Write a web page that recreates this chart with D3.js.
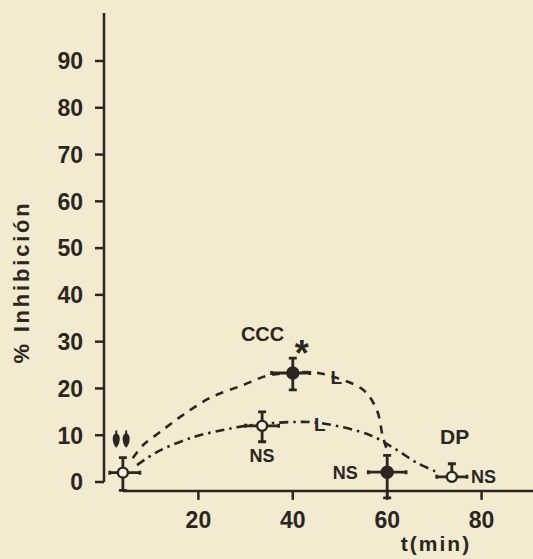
<!DOCTYPE html>
<html>
<head>
<meta charset="utf-8">
<script src="https://cdn.jsdelivr.net/npm/d3@7"></script>
<style>
  html, body { margin: 0; padding: 0; background: #f2ebcf; }
  svg { display: block; }
  text { font-family: 'Liberation Sans', Arial, sans-serif; font-weight: bold; fill: #2b2622; }
</style>
</head>
<body>
<div id="chart"></div>
<script>
  // data
  var yTicks = [0, 10, 20, 30, 40, 50, 60, 70, 80, 90];
  var xTicks = [20, 40, 60, 80];

  // shared starting point (open)
  var startPoint = [{t: 4, v: 2, xl: 2.8, xr: 3.6, yu: 3.2, yd: 3.8}];
  // CCC, filled points
  var cccTimes = [40, 60];
  var cccValues = [23.3, 2.1];
  var cccErrUp = [3.2, 3.6];
  var cccErrDown = [3.6, 5.5];
  var cccErrLeft = [4.5, 4];
  var cccErrRight = [3.6, 4];
  // DP, open points
  var dpTimes = [33.5, 73.7];
  var dpValues = [12, 1.1];
  var dpErrUp = [3, 2.8];
  var dpErrDown = [3.4, 0];
  var dpErrLeft = [3.5, 3.2];
  var dpErrRight = [3.5, 3.2];

  // hand drawn fitted curves
  var cccCurveT = [6.1, 8.3, 11.9, 16.7, 22.5, 29.4, 34.5, 39, 44.5, 48.9, 54.9, 57.8, 59.1, 60.2];
  var cccCurveV = [5.1, 7.9, 10.7, 14.3, 18.0, 20.7, 22.7, 23.3, 23.4, 22.4, 19.7, 15.4, 9.6, 6.2];
  var dpCurveT = [7.0, 11.2, 18.9, 25.2, 29.9, 39.4, 45.8, 56.4, 62.1, 66.3, 70.6];
  var dpCurveV = [3.6, 6.4, 9.6, 11.1, 12.0, 12.8, 12.6, 10.0, 6.8, 4.1, 2.1];

  var arrowTimes = [2.6, 4.7];

  var width = 533, height = 559,
    ink = '#2b2622';

  var svg = d3.select('#chart').append('svg')
    .attr('width', width)
    .attr('height', height);

  var x = d3.scaleLinear().domain([0, 91]).range([104, 533.5]);
  var y = d3.scaleLinear().domain([0, 90]).range([482, 61]);

  // y axis
  svg.append('line')
    .attr('x1', x(0)).attr('x2', x(0))
    .attr('y1', 13).attr('y2', y(0))
    .attr('stroke', ink).attr('stroke-width', 2.5);

  svg.selectAll('.ytick').data(yTicks).enter().append('line')
    .attr('class', 'ytick')
    .attr('x1', x(0) - 9).attr('x2', x(0))
    .attr('y1', function(d) { return y(d); })
    .attr('y2', function(d) { return y(d); })
    .attr('stroke', ink).attr('stroke-width', 2.5);

  svg.selectAll('.ylab').data(yTicks).enter().append('text')
    .attr('class', 'ylab')
    .attr('x', x(0) - 21)
    .attr('y', function(d) { return y(d); })
    .attr('dy', '0.36em')
    .attr('text-anchor', 'end')
    .style('font-size', '23px')
    .text(function(d) { return d; });

  svg.append('text')
    .attr('transform', 'translate(29,' + 282 + ') rotate(-90)')
    .attr('text-anchor', 'middle')
    .style('font-size', '22px')
    .style('letter-spacing', '2.8px')
    .text('% Inhibición');

  // x axis, offset a little below zero
  var axisY = y(-1.9);
  svg.append('line')
    .attr('x1', x(startPoint[0].t)).attr('x2', width)
    .attr('y1', axisY).attr('y2', axisY)
    .attr('stroke', ink).attr('stroke-width', 2.5);

  svg.selectAll('.xtick').data(xTicks).enter().append('line')
    .attr('class', 'xtick')
    .attr('x1', function(d) { return x(d); })
    .attr('x2', function(d) { return x(d); })
    .attr('y1', axisY).attr('y2', axisY + 9)
    .attr('stroke', ink).attr('stroke-width', 2.5);

  svg.selectAll('.xlab').data(xTicks).enter().append('text')
    .attr('class', 'xlab')
    .attr('x', function(d) { return x(d); })
    .attr('y', axisY + 37)
    .attr('text-anchor', 'middle')
    .style('font-size', '23px')
    .text(function(d) { return d; });

  svg.append('text')
    .attr('x', 436).attr('y', 551)
    .attr('text-anchor', 'middle')
    .style('font-size', '21px')
    .style('letter-spacing', '2px')
    .text('t(min)');

  // curves
  var line = d3.line()
    .x(function(d) { return x(d[0]); })
    .y(function(d) { return y(d[1]); })
    .curve(d3.curveCatmullRom);

  svg.append('path')
    .datum(d3.zip(cccCurveT, cccCurveV))
    .attr('d', line)
    .attr('fill', 'none')
    .attr('stroke', ink).attr('stroke-width', 2.6)
    .attr('stroke-dasharray', '8,7');

  svg.append('path')
    .datum(d3.zip(dpCurveT, dpCurveV))
    .attr('d', line)
    .attr('fill', 'none')
    .attr('stroke', ink).attr('stroke-width', 2.6)
    .attr('stroke-dasharray', '9,5,2.5,5');

  // points with error bars
  function pointsFrom(ts, vs, up, down, left, right, filled) {
    return ts.map(function(t, i) {
      return {t: t, v: vs[i], yu: up[i], yd: down[i], xl: left[i], xr: right[i], filled: filled};
    });
  }
  var points = startPoint.map(function(d) { return Object.assign({filled: false}, d); })
    .concat(pointsFrom(cccTimes, cccValues, cccErrUp, cccErrDown, cccErrLeft, cccErrRight, true))
    .concat(pointsFrom(dpTimes, dpValues, dpErrUp, dpErrDown, dpErrLeft, dpErrRight, false));

  var cap = 4;
  var pg = svg.selectAll('.pt').data(points).enter().append('g')
    .attr('class', 'pt');

  pg.append('path')
    .attr('fill', 'none')
    .attr('stroke', ink).attr('stroke-width', 2.8)
    .attr('d', function(d) {
      var cx = x(d.t), cy = y(d.v),
        top = y(d.v + d.yu), bot = y(d.v - d.yd),
        l = x(d.t - d.xl), r = x(d.t + d.xr);
      var p = 'M' + cx + ',' + top + 'V' + bot;
      p += 'M' + (cx - cap) + ',' + top + 'H' + (cx + cap);
      if (d.yd > 0) p += 'M' + (cx - cap) + ',' + bot + 'H' + (cx + cap);
      p += 'M' + l + ',' + cy + 'H' + r;
      p += 'M' + l + ',' + (cy - 2) + 'V' + (cy + 2);
      p += 'M' + r + ',' + (cy - 2) + 'V' + (cy + 2);
      return p;
    });

  pg.append('circle')
    .attr('cx', function(d) { return x(d.t); })
    .attr('cy', function(d) { return y(d.v); })
    .attr('r', function(d) { return d.filled ? 5.5 : 5; })
    .attr('fill', function(d) { return d.filled ? ink : '#f7f2de'; })
    .attr('stroke', ink).attr('stroke-width', 2.4);

  // injection arrows (teardrop heads)
  svg.selectAll('.arrow').data(arrowTimes).enter().append('path')
    .attr('class', 'arrow')
    .attr('fill', ink)
    .attr('d', function(d) {
      var cx = x(d), t = y(11), b = y(7.3);
      return 'M' + (cx - 1) + ',' + t + 'L' + (cx + 1) + ',' + t +
        'L' + (cx + 1) + ',' + (t + 3) +
        'C' + (cx + 5) + ',' + (t + 5) + ' ' + (cx + 4) + ',' + (b - 4) + ' ' + cx + ',' + b +
        'C' + (cx - 4) + ',' + (b - 4) + ' ' + (cx - 5) + ',' + (t + 5) + ' ' + (cx - 1) + ',' + (t + 3) + 'Z';
    });

  // annotations
  var notes = [
    {t: 33.6, v: 31.6, txt: 'CCC', size: 20, dy: '0.36em'},
    {t: 41.9, v: 24.9, txt: '*', size: 36, dy: '0'},
    {t: 49.2, v: 22.4, txt: 'L', size: 19, dy: '0.36em'},
    {t: 45.7, v: 12.4, txt: 'L', size: 19, dy: '0.36em'},
    {t: 33.5, v: 5.6, txt: 'NS', size: 18, dy: '0.36em'},
    {t: 51.1, v: 2.0, txt: 'NS', size: 18, dy: '0.36em'},
    {t: 74.3, v: 9.8, txt: 'DP', size: 21, dy: '0.36em'},
    {t: 80.4, v: 1.2, txt: 'NS', size: 18, dy: '0.36em'}
  ];
  svg.selectAll('.note').data(notes).enter().append('text')
    .attr('class', 'note')
    .attr('x', function(d) { return x(d.t); })
    .attr('y', function(d) { return y(d.v); })
    .attr('dy', function(d) { return d.dy; })
    .attr('text-anchor', 'middle')
    .style('font-size', function(d) { return d.size + 'px'; })
    .text(function(d) { return d.txt; });
</script>
</body>
</html>
